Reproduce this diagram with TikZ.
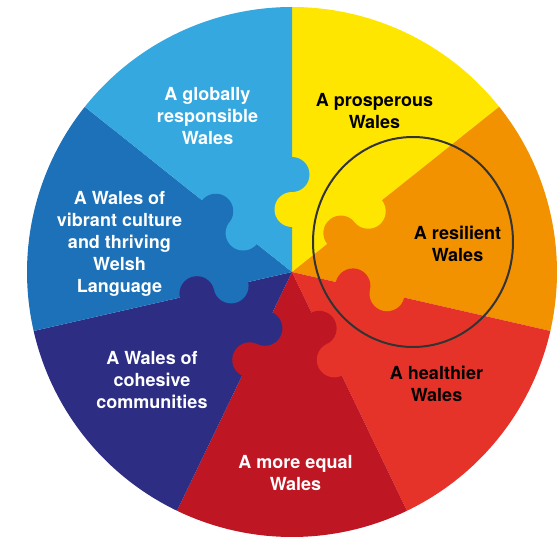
\documentclass[tikz,border=0pt]{standalone}
\usepackage{fontspec}
\setmainfont{TeX Gyre Heros}
\definecolor{cLB}{HTML}{35A8E0}
\definecolor{cYE}{HTML}{FFE600}
\definecolor{cOR}{HTML}{F39200}
\definecolor{cRE}{HTML}{E6332A}
\definecolor{cCR}{HTML}{BE1622}
\definecolor{cNA}{HTML}{2D2E83}
\definecolor{cBL}{HTML}{1D71B8}
\definecolor{cRing}{HTML}{333333}
\begin{document}
\begin{tikzpicture}[x=1pt,y=1pt,
  lbl/.style={font=\fontsize{18}{22}\selectfont\bfseries, align=center, text=white, inner sep=0pt},
  darklbl/.style={lbl, text=black},
  ring/.style={draw=cRing, line width=2pt}]
\useasboundingbox (0,0) rectangle (558,542);
\coordinate (C) at (292,270);
\def\R{265}
% wedges: start angle / end angle / colour
\foreach \a/\b/\c in {38.5714/90/cYE, -12.8571/38.5714/cOR, -64.2857/-12.8571/cRE,
  -115.7143/-64.2857/cCR, -167.1429/-115.7143/cNA, -218.5714/-167.1429/cBL,
  90/141.4286/cLB}{
  \fill[\c] (C) -- ++(\a:\R) arc[start angle=\a, end angle=\b, radius=\R] -- cycle;
}
% puzzle bumps: boundary angle / clockwise colour / counter-clockwise colour
\foreach \t/\cw/\ccw in {90/cYE/cLB, 38.5714/cOR/cYE, -12.8571/cRE/cOR,
  -64.2857/cCR/cRE, -115.7143/cNA/cCR, -167.1429/cBL/cNA, 141.4286/cLB/cBL}{
  \begin{scope}[shift={(C)}, rotate=\t]
    \fill[\cw] (45,-1) -- (45,0) arc[start angle=180, end angle=0, radius=17.5] -- (80,-1) -- cycle;
    \fill[\ccw] (80,1) -- (80,0) arc[start angle=180, end angle=360, radius=17.5] -- (115,1) -- cycle;
  \end{scope}
}
% labels
\node[lbl] (glob) at (207.5,426.3) {A globally\\responsible\\Wales};
\node[darklbl] (pros) at (374.5,431) {A prosperous\\Wales};
\node[darklbl] (resi) at (457.5,298.5) {A resilient\\Wales};
\node[darklbl] (heal) at (436.5,158.5) {A healthier\\Wales};
\node[lbl] (equa) at (295.5,68.5) {A more equal\\Wales};
\node[lbl] (cohe) at (152,162.3) {A Wales of\\cohesive\\communities};
\node[lbl] (cult) at (119.5,298) {A Wales of\\vibrant culture\\and thriving\\Welsh\\Language};
% highlight ring
\draw[ring] (413,300) ellipse [x radius=100, y radius=105];
\end{tikzpicture}
\end{document}
